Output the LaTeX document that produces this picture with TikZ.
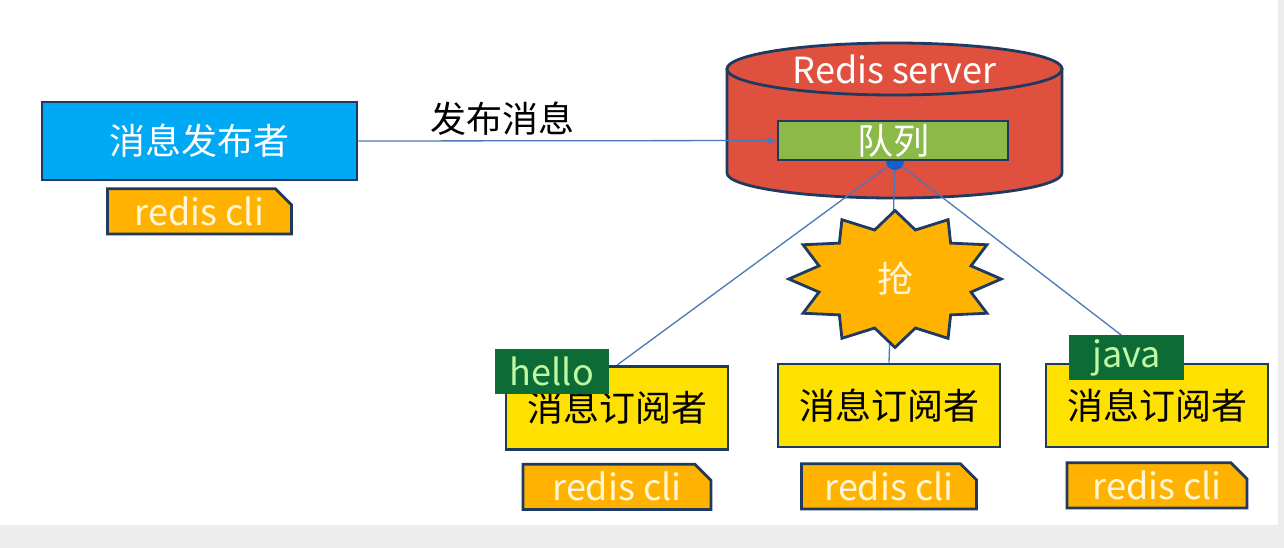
\documentclass[tikz,border=0pt]{standalone}
\usepackage{fontspec}
\setmainfont{Noto Sans CJK SC}
\usetikzlibrary{arrows.meta, positioning, shapes.geometric, shapes.misc}
\definecolor{navy}{HTML}{1F3A60}
\definecolor{pubblue}{HTML}{00A9F4}
\definecolor{cliorange}{HTML}{FFB300}
\definecolor{subyellow}{HTML}{FFE100}
\definecolor{srvred}{HTML}{E0503F}
\definecolor{queuegreen}{HTML}{8BBA48}
\definecolor{tagdark}{HTML}{0D6B36}
\definecolor{linkblue}{HTML}{4A78B8}
\definecolor{hubblue}{HTML}{1060D0}
\definecolor{cream}{HTML}{FFF6D8}
\definecolor{shotgray}{HTML}{EDEDED}
\pgfdeclarelayer{bg}
\pgfdeclarelayer{edges}
\pgfsetlayers{bg,edges,main}

\begin{document}
\begin{tikzpicture}[x=1pt, y=-1pt,
    txt/.style={font=\fontsize{36}{42}\selectfont},
    box/.style={draw=navy, line width=2.8pt, inner sep=0pt, txt},
    clibox/.style={box, chamfered rectangle, chamfered rectangle corners=north east,
        chamfered rectangle xsep=8pt, chamfered rectangle ysep=8pt,
        fill=cliorange, text=cream, minimum width=#1, minimum height=45pt},
    subbox/.style={box, rectangle, fill=subyellow, text=black, minimum width=222pt, minimum height=83pt},
    tagbox/.style={rectangle, fill=tagdark, text=cream!75!green, inner sep=0pt, txt,
        minimum height=45pt},
    link/.style={draw=linkblue, line width=1.3pt}]
    % screenshot frame
    \begin{pgfonlayer}{bg}
        \fill[shotgray] (0,0) rectangle (1284,548);
        \fill[white] (0,0) rectangle (1278,525);
        % redis server drum
        \filldraw[fill=srvred, draw=navy, line width=2.8pt] (727,69) -- (727,173)
            arc[start angle=180, end angle=360, x radius=167.5pt, y radius=25pt] -- (1062,69) -- cycle;
        \filldraw[fill=srvred, draw=navy, line width=2.8pt] (894.5,69) ellipse [x radius=167.5pt, y radius=26pt];
    \end{pgfonlayer}
    \node[txt, text=white] (server) at (894.5,69) {Redis server};

    % publisher side
    \node[box, rectangle, fill=pubblue, text=white, minimum width=315pt, minimum height=78pt] (pub) at (199.5,141) {消息发布者};
    \node[clibox=184pt, below=6pt of pub] (pubcli) {redis cli};

    % queue and hub
    \node[circle, fill=hubblue, minimum size=18pt, inner sep=0pt] (hub) at (895,161) {};
    \node[box, rectangle, fill=queuegreen, text=white, minimum width=230pt, minimum height=39pt] (queue) at (893,140.5) {队列};

    % subscribers
    \node[subbox] (sub1) at (617,408) {消息订阅者};
    \node[subbox] (sub2) at (889,405.5) {消息订阅者};
    \node[subbox] (sub3) at (1157,405.5) {消息订阅者};
    \node[clibox=188pt, below=12pt of sub1] (cli1) {redis cli};
    \node[clibox=175pt, below=14pt of sub2] (cli2) {redis cli};
    \node[clibox=180pt, below=13pt of sub3] (cli3) {redis cli};
    \node[tagbox, minimum width=114pt] (hello) at (552,371.5) {hello};
    \node[tagbox, minimum width=115pt] (java) at (1126.5,357.5) {java};

    % contention burst
    \node[star, star points=12, star point ratio=1.35, minimum size=137pt, inner sep=0pt,
        fill=cliorange, draw=navy, line width=2.8pt, xscale=1.55, transform shape] (grab) at (895,279) {};
    \node[txt, text=cream] (grabtxt) at (grab.center) {抢};

    \begin{pgfonlayer}{edges}
        \draw[link, -{Latex[length=9pt, width=7pt]}] (pub.east) -- node[pos=0.345, above=1pt, txt, text=black] (pubmsg) {发布消息} (queue.west);
        \draw[link] (hub.center) -- (sub1.north);
        \draw[link] (hub.center) -- (sub2.north);
        \draw[link] (hub.center) -- (sub3.north);
    \end{pgfonlayer}
\end{tikzpicture}
\end{document}
